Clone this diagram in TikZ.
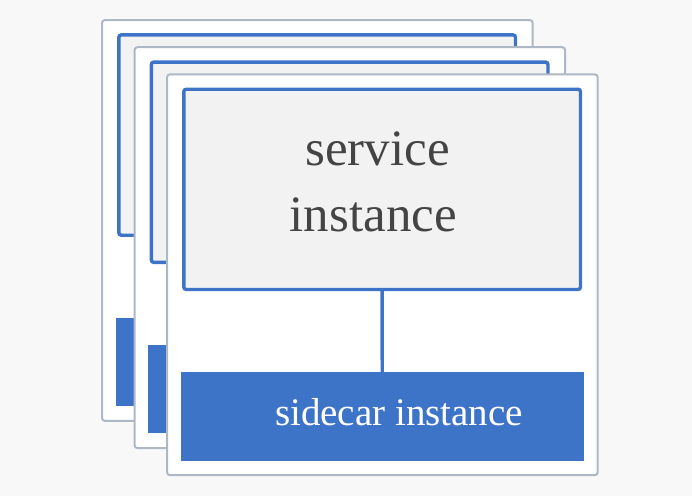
\documentclass[tikz,border=0pt]{standalone}
\usepackage{fontspec}
\setmainfont{Liberation Serif}
\definecolor{bgc}{HTML}{F8F8F8}
\definecolor{cardgray}{HTML}{AEB8C5}
\definecolor{blueone}{HTML}{3D74C8}
\definecolor{svcgray}{HTML}{F2F2F2}
\definecolor{txtgray}{HTML}{444444}
\begin{document}
\begin{tikzpicture}[x=1pt,y=-1pt,
  card/.style={draw=cardgray, line width=2pt, fill=white, rounded corners=3pt,
    outer sep=0pt, inner sep=0pt, anchor=north west, minimum width=430.7pt, minimum height=400.9pt},
  svcbox/.style={draw=blueone, line width=3.4pt, fill=svcgray, rounded corners=2.5pt,
    outer sep=0pt, inner sep=0pt, anchor=north west, minimum width=396.7pt, minimum height=200.3pt},
  sidebox/.style={fill=blueone, outer sep=0pt, inner sep=0pt, anchor=north west,
    minimum width=403pt, minimum height=88.2pt},
  conn/.style={draw=blueone, line width=3.4pt},
  bigtxt/.style={text=txtgray, inner sep=0pt, anchor=base, font=\fontsize{51}{60}\selectfont},
  sidetxt/.style={text=white, inner sep=0pt, anchor=base, font=\fontsize{39}{46}\selectfont}]
\useasboundingbox (0,0) rectangle (692,496);
\fill[bgc] (0,0) rectangle (692,496);
\foreach \i/\ox/\oy in {1/102/20, 2/134.5/47.2, 3/167/74.3} {
  \node[card] (card\i) at (\ox,\oy) {};
  \node[svcbox] (svc\i) at ({\ox+16.8},{\oy+14.9}) {};
  \node[sidebox] (side\i) at ({\ox+13.7},{\oy+298}) {};
}
\draw[conn] (svc3.south) -- (side3.north);
\node[bigtxt] (t1) at (377.5,165.7) {service};
\node[bigtxt] (t2) at (373.3,231.7) {instance};
\node[sidetxt] (t3) at (399,425.7) {sidecar instance};
\end{tikzpicture}
\end{document}
